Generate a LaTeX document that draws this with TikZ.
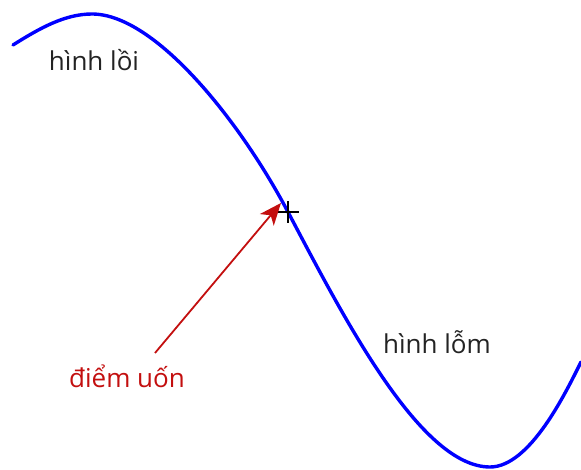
\documentclass[tikz,border=0pt]{standalone}
\usepackage{fontspec}
\setmainfont{Open Sans}
\usetikzlibrary{arrows.meta, positioning}
\definecolor{curveblue}{RGB}{0, 0, 255}
\definecolor{labelgray}{RGB}{35, 35, 35}
\definecolor{pointred}{RGB}{195, 15, 15}

\begin{document}
\begin{tikzpicture}[
  x=1pt, y=-1pt,
  curve/.style={draw=curveblue, line width=3.4pt, line join=round, line cap=round},
  lbl/.style={text=labelgray, font=\fontsize{26}{30}\selectfont, inner sep=0pt},
  redlbl/.style={text=pointred, font=\fontsize{26}{30}\selectfont, inner sep=0pt},
  arrow/.style={-{Stealth[length=22pt, width=18pt, inset=6pt]}, line width=1.8pt, color=pointred},
  cross/.style={draw=black, line width=1.4pt}
]
  \useasboundingbox (0,0) rectangle (581,470);

  % Curve
  \coordinate (peak) at (92,14);
  \coordinate (inflex) at (288,212);
  \coordinate (trough) at (490,467);
  \draw[curve] (13,45) .. controls (40,28) and (65,14) .. (peak)
    .. controls (155,14) and (240,121) .. (inflex)
    .. controls (343,316) and (420,467) .. (trough)
    .. controls (530,467) and (566,392) .. (581,362);

  % Inflection point
  \draw[cross] ([xshift=-11pt]inflex) -- ([xshift=11pt]inflex);
  \draw[cross] ([yshift=-11pt]inflex) -- ([yshift=11pt]inflex);

  % Labels
  \node[lbl] (convexlbl) at (94,60) {hình lồi};
  \node[lbl] (concavelbl) at (437,342) {hình lỗm};
  \node[redlbl] (inflexlbl) at (127,376) {điểm uốn};

  % Arrow
  \coordinate (arrowtail) at (155,353);
  \draw[arrow] (arrowtail) -- ([shift={(-7pt,9pt)}]inflex);
\end{tikzpicture}
\end{document}
